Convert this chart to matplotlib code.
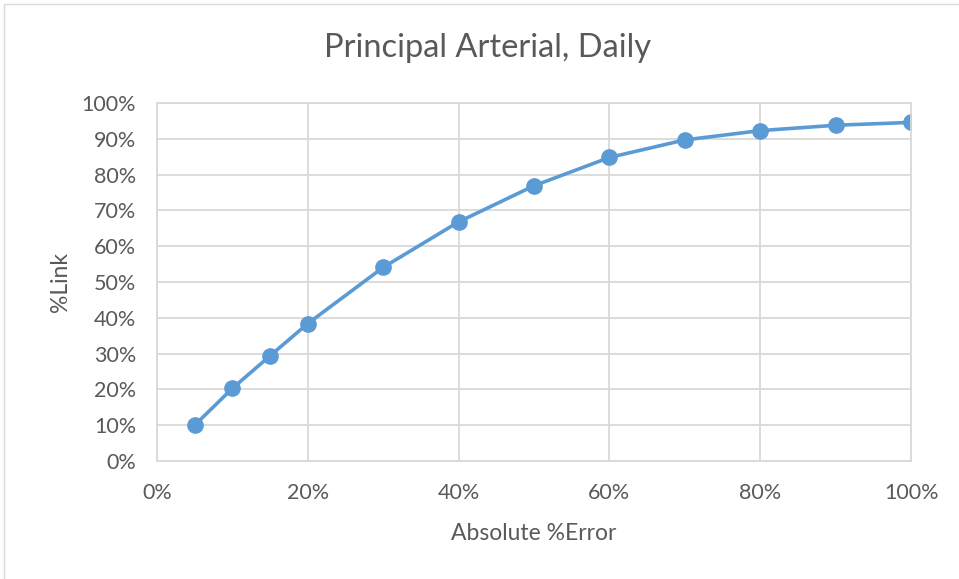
import matplotlib.pyplot as plt
from matplotlib.patches import Rectangle
from matplotlib.ticker import PercentFormatter, MultipleLocator

# Absolute % error thresholds and share of links within them
abs_error = [5, 10, 15, 20, 30, 40, 50, 60, 70, 80, 90, 100]
pct_link = [10.0, 20.3, 29.4, 38.4, 54.1, 66.8, 76.9, 84.8, 89.7, 92.3, 93.8, 94.6]

plt.rcParams['font.family'] = ['Lato', 'DejaVu Sans']
text_color = '#595959'
grid_color = '#D9D9D9'
line_color = '#5B9BD5'

fig = plt.figure(figsize=(9.59, 5.79), dpi=100)
ax = fig.add_axes([0.1637, 0.2038, 0.7863, 0.6182])

ax.plot(abs_error, pct_link, color=line_color, linewidth=2.6, marker='o', markersize=11)

ax.set_xlim(0, 100)
ax.set_ylim(0, 100)
ax.xaxis.set_major_locator(MultipleLocator(20))
ax.yaxis.set_major_locator(MultipleLocator(10))
ax.xaxis.set_major_formatter(PercentFormatter(decimals=0))
ax.yaxis.set_major_formatter(PercentFormatter(decimals=0))

ax.grid(True, color=grid_color, linewidth=1.3)
ax.set_axisbelow(True)
for side in ['top', 'right', 'left', 'bottom']:
    ax.spines[side].set_color(grid_color)
    ax.spines[side].set_linewidth(1.3)
ax.tick_params(length=0, labelsize=15.5, colors=text_color)
ax.tick_params(axis='x', pad=16)
ax.tick_params(axis='y', pad=15)

fig.text(487.5 / 959, 1 - 57 / 579, 'Principal Arterial, Daily', fontsize=23.5,
         color=text_color, ha='center', va='baseline')
ax.set_xlabel('Absolute %Error', fontsize=16.5, color=text_color, labelpad=14)
ax.set_ylabel('%Link', fontsize=16.5, color=text_color, labelpad=8)

# chart area border
fig.patches.append(Rectangle((4 / 959, -0.01), 1.0, 1 - 4 / 579 + 0.01, transform=fig.transFigure,
                             fill=False, edgecolor=grid_color, linewidth=1.0))

fig.savefig('out.png', dpi=100)
